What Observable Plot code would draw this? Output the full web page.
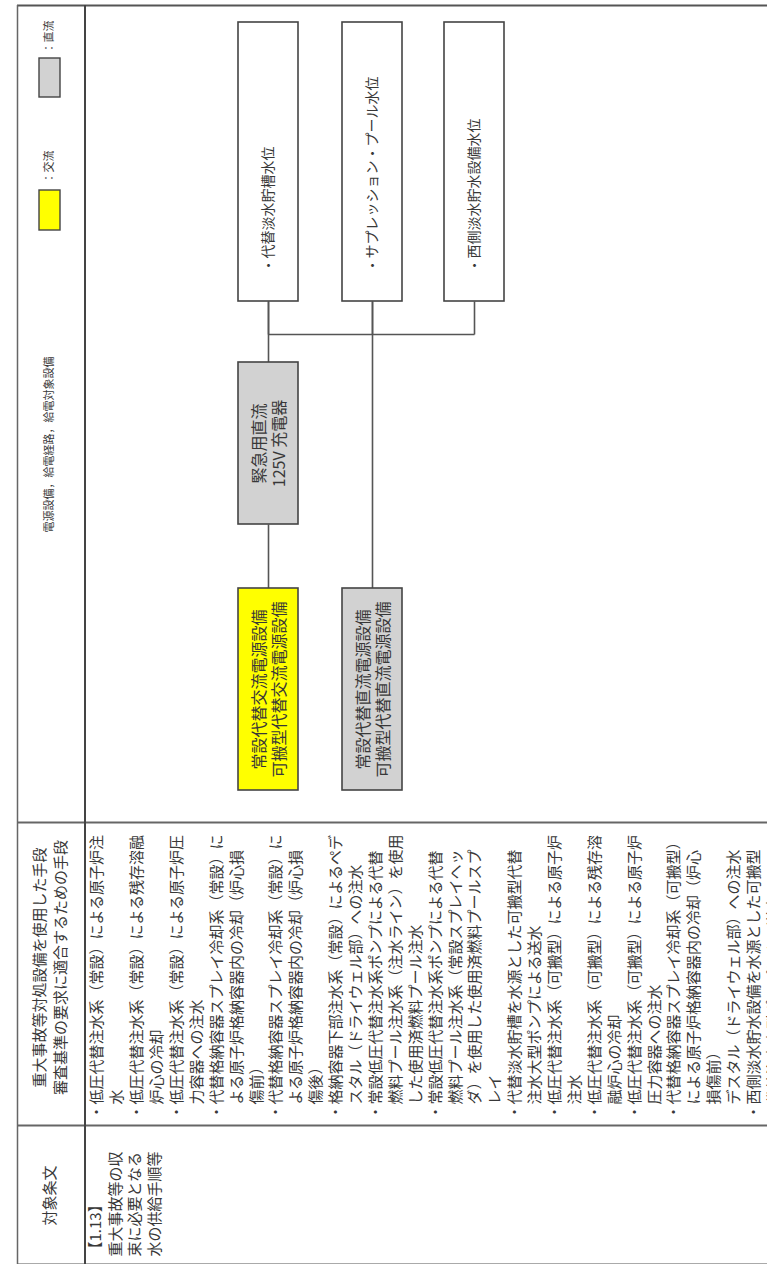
<!DOCTYPE html>
<html><head><meta charset="utf-8">
<script src="https://cdn.jsdelivr.net/npm/d3@7"></script>
<script src="https://cdn.jsdelivr.net/npm/@observablehq/plot@0.6"></script>
<style>
html,body{margin:0;padding:0;background:#fff;}
#chart svg{display:block;}
g[aria-label="article-lines"] text{letter-spacing:2px;}
g[aria-label="article-head"] text{letter-spacing:4px;}
</style></head><body><div id="chart"></div>
<script>
// ---------------- data ----------------
const columnHeads = [
  "電源設備，給電経路，給電対象設備",
  "重大事故等対処設備を使用した手段\n審査基準の要求に適合するための手段",
  "対象条文"
];
const legendTypes = ["直流", "交流"];
const legendLabels = ["：直流", "：交流"];

const targetNames = ["・代替淡水貯槽水位", "・サプレッション・プール水位", "・西側淡水貯水設備水位"];
const chargerNames = ["緊急用直流\n125V 充電器"];
const chargerTypes = ["直流"];
const sourceNames = ["常設代替交流電源設備\n可搬型代替交流電源設備", "常設代替直流電源設備\n可搬型代替直流電源設備"];
const sourceTypes = ["交流", "直流"];
// feeds: [from kind, from index, to kind, to index]
const feeds = [["source", 0, "charger", 0], ["charger", 0, "target", 0], ["source", 1, "target", 1]];

const methodLines = [
  "・低圧代替注水系（常設）による原子炉注",
  "　水",
  "・低圧代替注水系（常設）による残存溶融",
  "　炉心の冷却",
  "・低圧代替注水系（常設）による原子炉圧",
  "　力容器への注水",
  "・代替格納容器スプレイ冷却系（常設）に",
  "　よる原子炉格納容器内の冷却（炉心損",
  "　傷前）",
  "・代替格納容器スプレイ冷却系（常設）に",
  "　よる原子炉格納容器内の冷却（炉心損",
  "　傷後）",
  "・格納容器下部注水系（常設）によるペデ",
  "　スタル（ドライウェル部）への注水",
  "・常設低圧代替注水系ポンプによる代替",
  "　燃料プール注水系（注水ライン）を使用",
  "　した使用済燃料プール注水",
  "・常設低圧代替注水系ポンプによる代替",
  "　燃料プール注水系（常設スプレイヘッ",
  "　ダ）を使用した使用済燃料プールスプ",
  "　レイ",
  "・代替淡水貯槽を水源とした可搬型代替",
  "　注水大型ポンプによる送水",
  "・低圧代替注水系（可搬型）による原子炉",
  "　注水",
  "・低圧代替注水系（可搬型）による残存溶",
  "　融炉心の冷却",
  "・低圧代替注水系（可搬型）による原子炉",
  "　圧力容器への注水",
  "・代替格納容器スプレイ冷却系（可搬型）",
  "　による原子炉格納容器内の冷却（炉心",
  "　損傷前）",
  "　デスタル（ドライウェル部）への注水",
  "・西側淡水貯水設備を水源とした可搬型",
  "　代替注水大型ポンプによる送水"
];
const articleLines = ["【1.13】", "重大事故等の収", "束に必要となる", "水の供給手順等"];

// ---------------- layout ----------------
const W = 767, H = 1264;
const L = {
  left: 17, headDiv: 84.5, top: 5, bottom: 1263,
  colBreaks: [822, 1125],          // diagram | methods | article
  headX: 49,
  headY: [532, 967, 1195],
  legendX: [39, 60],
  legendBox: [[58, 97], [190, 230]],
  legendTextY: [53, 183],
  smallFont: 11,
  lineX0: 97, linePitch: 19.9, lineStartY: 1119, justifyLen: 284,
  articleX0: 95.5, articlePitch: 19.8, articleStartY: 1256,
  lanes: [268, 372, 474], boxW: 60,
  stage: {target: [22, 301], charger: [362, 524], source: [588, 790]},
  targetLane: [0, 1, 2], chargerLane: [0], sourceLane: [0, 1],
  busY: 334, targetTextY: 272
};
const font = "'Noto Sans CJK JP', 'Noto Sans', sans-serif";
const ink = "#383838";

// ---------------- derived ----------------
const nodes = [
  ...targetNames.map((name, i) => ({kind: "target", i, name, type: "対象", lane: L.targetLane[i]})),
  ...chargerNames.map((name, i) => ({kind: "charger", i, name, type: chargerTypes[i], lane: L.chargerLane[i]})),
  ...sourceNames.map((name, i) => ({kind: "source", i, name, type: sourceTypes[i], lane: L.sourceLane[i]}))
];
const findNode = (k, i) => nodes.find(n => n.kind === k && n.i === i);
const cx = n => L.lanes[n.lane];
const nTop = n => L.stage[n.kind][0];
const nBot = n => L.stage[n.kind][1];

const segments = [
  ...feeds.map(([fk, fi, tk, ti]) => {
    const a = findNode(fk, fi), b = findNode(tk, ti);
    return {x1: cx(a), y1: nTop(a), x2: cx(a), y2: nBot(b)};
  }),
  ...nodes.filter(n => n.kind === "target").map(n => ({x1: cx(n), y1: nBot(n), x2: cx(n), y2: L.busY})),
  {x1: d3.min(L.targetLane, l => L.lanes[l]), y1: L.busY, x2: d3.max(L.targetLane, l => L.lanes[l]), y2: L.busY}
];

const legend = legendTypes.map((t, i) => ({type: t, label: legendLabels[i], y1: L.legendBox[i][0], y2: L.legendBox[i][1], ty: L.legendTextY[i]}));

const svg = Plot.plot({
  width: W, height: H, margin: 0, inset: 0,
  style: {fontFamily: font, background: "#fff", color: ink},
  x: {domain: [0, W], range: [0, W], axis: null},
  y: {domain: [0, H], range: [0, H], axis: null},
  color: {domain: ["交流", "直流", "対象"], range: ["#ffff00", "#d2d2d2", "#ffffff"]},
  marks: [
    // table grid
    Plot.ruleY([L.top], {x1: L.left, x2: W, stroke: "#555", strokeWidth: 2.2}),
    Plot.ruleY(L.colBreaks, {x1: L.left, x2: W, stroke: "#666", strokeWidth: 2}),
    Plot.ruleY([L.bottom], {x1: L.left, x2: W, stroke: "#aaa", strokeWidth: 1}),
    Plot.ruleX([L.left], {y1: L.top, y2: H, stroke: "#666", strokeWidth: 1.5}),
    Plot.ruleX([L.headDiv], {y1: L.top, y2: H, stroke: "#444", strokeWidth: 2}),
    // connectors
    Plot.link(segments, {x1: "x1", y1: "y1", x2: "x2", y2: "y2", stroke: "#555", strokeWidth: 1.6}),
    // boxes
    Plot.rect(nodes, {
      x1: n => cx(n) - L.boxW / 2, x2: n => cx(n) + L.boxW / 2,
      y1: nTop, y2: nBot, fill: "type", stroke: "#444", strokeWidth: 1.6
    }),
    Plot.text(nodes.filter(n => n.kind === "target"), {
      x: cx, y: L.targetTextY, text: "name", rotate: -90, textAnchor: "start",
      fontSize: 14, fill: ink
    }),
    Plot.text(nodes.filter(n => n.kind !== "target"), {
      x: cx, y: n => (nTop(n) + nBot(n)) / 2, text: "name", rotate: -90, textAnchor: "middle",
      lineHeight: 1.25, fontSize: 16, fill: ink
    }),
    // legend
    Plot.rect(legend, {x1: L.legendX[0], x2: L.legendX[1], y1: "y1", y2: "y2", fill: "type", stroke: "#444", strokeWidth: 1.4}),
    Plot.text(legend, {x: L.headX, y: "ty", text: "label", rotate: -90, textAnchor: "start", fontSize: L.smallFont, fill: ink}),
    // column heads
    Plot.text([columnHeads[0]], {x: L.headX, y: L.headY[0], text: d => d, rotate: -90, textAnchor: "start", fontSize: L.smallFont, fill: ink}),
    Plot.text([columnHeads[1]], {x: L.headX - 1, y: L.headY[1], text: d => d, rotate: -90, textAnchor: "middle", fontSize: 15, lineHeight: 1.45, fill: ink}),
    Plot.text([columnHeads[2]], {x: L.headX + 1, y: L.headY[2], text: d => d, rotate: -90, textAnchor: "middle", fontSize: 15, fill: ink, ariaLabel: "article-head"}),
    // method lines
    Plot.text(methodLines, {
      x: (d, i) => L.lineX0 + i * L.linePitch, y: L.lineStartY, text: d => d,
      rotate: -90, textAnchor: "start", fontSize: 15, fill: ink, ariaLabel: "method-lines"
    }),
    // article lines
    Plot.text(articleLines, {
      x: (d, i) => L.articleX0 + i * L.articlePitch, y: L.articleStartY, text: d => d,
      rotate: -90, textAnchor: "start", fontSize: 15, fill: ink, ariaLabel: "article-lines"
    })
  ]
});

// justify full (wrapped) lines like the source document
d3.select(svg).selectAll('g[aria-label="method-lines"] text').each(function(d, k) {
  const next = methodLines[k + 1];
  if (next !== undefined && next.startsWith("　")) {
    d3.select(this).attr("textLength", L.justifyLen).attr("lengthAdjust", "spacing");
  }
});

document.getElementById("chart").appendChild(svg);
</script></body></html>
